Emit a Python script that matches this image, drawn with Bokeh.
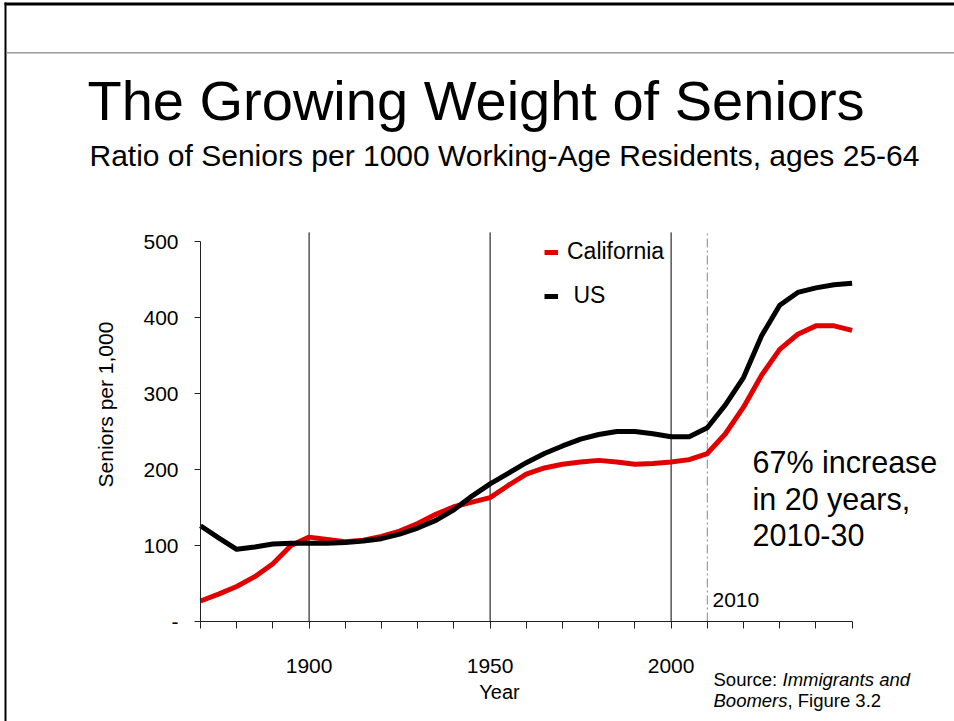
import math
from bokeh.plotting import figure
from bokeh.models import (Range1d, FixedTicker, Label, Legend, LegendItem,
                          BoxAnnotation)
from bokeh.embed import file_html
from bokeh.resources import INLINE

# ---------------- data ----------------
years = [1870, 1875, 1880, 1885, 1890, 1895, 1900, 1905, 1910, 1915, 1920,
         1925, 1930, 1935, 1940, 1945, 1950, 1955, 1960, 1965, 1970, 1975,
         1980, 1985, 1990, 1995, 2000, 2005, 2010, 2015, 2020, 2025, 2030,
         2035, 2040, 2045, 2050]
california = [27, 36, 46, 59, 76, 100, 111, 108, 105, 107, 112,
              119, 129, 141, 151, 157, 163, 179, 194, 202, 207, 210,
              212, 210, 207, 208, 210, 213, 221, 247, 282, 324, 358,
              378, 389, 389, 383]
us = [126, 110, 95, 98, 102, 103, 103, 103, 104, 106, 109,
      115, 123, 133, 147, 165, 181, 195, 209, 221, 231, 240,
      246, 250, 250, 247, 243, 243, 255, 285, 321, 376, 416,
      433, 439, 443, 445]

y_ticks = [0, 100, 200, 300, 400, 500]
y_tick_labels = ["-", "100", "200", "300", "400", "500"]
x_ticks = list(range(1870, 2051, 10))
x_labeled = [1900, 1950, 2000]
ref_years = [1900, 1950, 2000]
mark_year = 2010

FONT = "Liberation Sans"

# ---------------- layout ----------------
W, H = 954, 721
AXIS_X, AXIS_Y = 200, 621          # pixel position of the axes origin
PX_PER_YEAR = 3.62
PX_PER_UNIT = 0.76
X0, Y0 = 1870, 0

x_range = Range1d(X0 - AXIS_X / PX_PER_YEAR, X0 + (W - AXIS_X) / PX_PER_YEAR)
y_range = Range1d(Y0 - (H - AXIS_Y) / PX_PER_UNIT, Y0 + AXIS_Y / PX_PER_UNIT)

p = figure(width=W, height=H, output_backend="svg", toolbar_location=None,
           x_range=x_range, y_range=y_range,
           min_border_left=0, min_border_bottom=0,
           min_border_top=0, min_border_right=0,
           x_axis_location="below", y_axis_location="left")
p.title.visible = False
p.outline_line_color = None
p.xgrid.visible = False
p.ygrid.visible = False
p.background_fill_color = "white"
p.border_fill_color = "white"

# axes (drawn at fixed data locations inside the plotting area)
xa = p.xaxis[0]
xa.fixed_location = Y0
xa.bounds = (1870, 2050)
xa.ticker = FixedTicker(ticks=x_ticks)
xa.major_label_overrides = {t: (str(t) if t in x_labeled else "") for t in x_ticks}
xa.major_tick_out = 7
xa.major_tick_in = 0
xa.minor_tick_line_color = None
xa.major_label_standoff = 30
xa.major_label_text_font = FONT
xa.major_label_text_font_size = "21px"
xa.major_label_text_color = "black"
xa.axis_line_color = "#222222"
xa.major_tick_line_color = "#222222"

ya = p.yaxis[0]
ya.fixed_location = X0
ya.bounds = (0, 500)
ya.ticker = FixedTicker(ticks=y_ticks)
ya.major_label_overrides = {t: l for t, l in zip(y_ticks, y_tick_labels)}
ya.major_tick_out = 6
ya.major_tick_in = 0
ya.minor_tick_line_color = None
ya.major_label_standoff = 16
ya.major_label_text_font = FONT
ya.major_label_text_font_size = "21px"
ya.major_label_text_color = "black"
ya.axis_line_color = "#222222"
ya.major_tick_line_color = "#222222"

# reference verticals
p.segment(x0=ref_years, y0=[0] * len(ref_years), x1=ref_years,
          y1=[512] * len(ref_years), line_color="black", line_width=1)
p.segment(x0=[mark_year], y0=[0], x1=[mark_year], y1=[512],
          line_color="#888888", line_width=1, line_dash="9 3 2 3")

# series
r_ca = p.line(years, california, line_color="#e00000", line_width=5,
              line_join="round")
r_us = p.line(years, us, line_color="black", line_width=5, line_join="round")

legend = Legend(items=[LegendItem(label="California", renderers=[r_ca]),
                       LegendItem(label=" US", renderers=[r_us])],
                location=(544, H - 309), orientation="vertical",
                padding=0, margin=0, spacing=17,
                glyph_width=14, glyph_height=22, label_height=22,
                label_standoff=9, label_text_font=FONT,
                label_text_font_size="23px", label_text_color="black",
                border_line_color=None, background_fill_alpha=0)
p.add_layout(legend)


def lab(text, px, py, size, align="left", style="normal", baseline="alphabetic",
        angle=0.0, color="black"):
    # px, py: pixel position (text baseline) from the picture's top-left corner
    if baseline == "alphabetic":
        py = py - 0.33 * size
    p.add_layout(Label(x=px, y=H - py, x_units="screen", y_units="screen",
                       text=text, text_font=FONT, text_font_size=f"{size}px",
                       text_align=align, text_baseline=baseline,
                       text_font_style=style, angle=angle, text_color=color))


lab("The Growing Weight of Seniors", 87, 118, 56)
lab("Ratio of Seniors per 1000 Working-Age Residents, ages 25-64", 89, 165, 30)
lab("67% increase", 752, 472, 30.5)
lab("in 20 years,", 752, 509, 30.5)
lab("2010-30", 752, 545, 30.5)
lab("2010", 712, 606, 21)
lab("Seniors per 1,000", 105, 404, 21, align="center", baseline="middle",
    angle=math.pi / 2)
lab("Year", 499, 698, 20, align="center")
lab("Source: ", 713, 685, 18.5)
lab("Immigrants and", 782, 685, 18.5, style="italic")
lab("Boomers", 713, 706, 18.5, style="italic")
lab(", Figure 3.2", 787, 706, 18.5)

# slide decorations: top/left border and grey rule
def box(l, r, t, b, color):
    p.add_layout(BoxAnnotation(left=l, right=r, top=t, bottom=b,
                               left_units="canvas", right_units="canvas",
                               top_units="canvas", bottom_units="canvas",
                               fill_color=color, fill_alpha=1, line_color=None))

box(4, W, 2, 5, "black")
box(4, 6, 2, H, "black")
box(6, W, 51.5, 53, "#9a9a9a")

open("out.html", "w").write(file_html(p, INLINE))
